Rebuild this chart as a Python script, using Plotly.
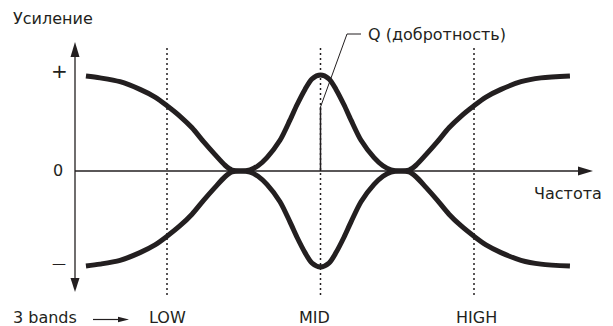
import plotly.graph_objects as go

# Band centres on the frequency axis (LOW / MID / HIGH)
band_names = ['LOW', 'MID', 'HIGH']
band_freq = [1.0, 2.0, 3.0]

# Response curves (frequency in band units, gain in +/- units)
freq = [0.472, 0.564, 0.694, 0.824, 0.922, 1.000, 1.085, 1.163, 1.241, 1.313,
        1.378, 1.423, 1.482, 1.541, 1.593, 1.651, 1.736, 1.801, 1.847, 1.899,
        1.945, 2.0, 2.055, 2.101, 2.153, 2.199, 2.264, 2.349, 2.407, 2.459,
        2.518, 2.577, 2.622, 2.687, 2.759, 2.837, 2.915, 3.0, 3.078, 3.176,
        3.306, 3.436, 3.625]
gain_boost = [0.99, 0.97, 0.93, 0.85, 0.77, 0.68, 0.57, 0.45, 0.30, 0.17,
              0.06, 0.01, 0.0, 0.012, 0.055, 0.14, 0.32, 0.53, 0.69, 0.85,
              0.96, 1.0, 0.96, 0.85, 0.69, 0.53, 0.32, 0.14, 0.055, 0.012,
              0.0, 0.01, 0.06, 0.17, 0.30, 0.45, 0.57, 0.68, 0.77, 0.85,
              0.93, 0.97, 0.99]
gain_cut = [-0.99, -0.97, -0.93, -0.85, -0.77, -0.68, -0.57, -0.45, -0.30, -0.17,
            -0.06, -0.01, 0.0, -0.012, -0.055, -0.14, -0.32, -0.53, -0.69, -0.85,
            -0.96, -1.0, -0.96, -0.85, -0.69, -0.53, -0.32, -0.14, -0.055, -0.012,
            0.0, -0.01, -0.06, -0.17, -0.30, -0.45, -0.57, -0.68, -0.77, -0.85,
            -0.93, -0.97, -0.99]

INK = '#231f20'
FONT = 'DejaVu Sans, Liberation Sans, sans-serif'
W, H = 613, 326
PAGE_PAD = 8   # default body margin of the html page


# helpers: picture pixel -> data units
def fx(px):
    return 1 + (px - 167) / 153.5


def gy(py):
    return (171 - py) / 96


fig = go.Figure()

for g in (gain_boost, gain_cut):
    fig.add_trace(go.Scatter(
        x=freq, y=g, mode='lines',
        line=dict(color=INK, width=5, shape='spline', smoothing=0.8),
        showlegend=False, hoverinfo='skip'
    ))

shapes = []

# Dotted band markers
for f in band_freq:
    shapes.append(dict(type='line', xref='x', yref='y', x0=f, x1=f,
                       y0=gy(48), y1=gy(298),
                       line=dict(color=INK, width=1.5, dash='2px,3px')))

# Axes
shapes.append(dict(type='line', xref='x', yref='y', x0=fx(75), x1=fx(75),
                   y0=gy(55), y1=gy(280), line=dict(color=INK, width=1.3)))
shapes.append(dict(type='line', xref='x', yref='y', x0=fx(75), x1=fx(580),
                   y0=0, y1=0, line=dict(color=INK, width=1.3)))


def tri(p1, p2, p3):
    pts = [p1, p2, p3]
    return 'M ' + ' L '.join(f'{fx(a)},{gy(b)}' for a, b in pts) + ' Z'


arrow_paths = [
    tri((75, 42), (70.5, 57), (79.5, 57)),
    tri((75, 292), (70.5, 278), (79.5, 278)),
    tri((593, 171), (578, 166.5), (578, 175.5)),
    tri((129, 319.5), (118, 316.8), (118, 322.2)),
]
for p in arrow_paths:
    shapes.append(dict(type='path', xref='x', yref='y', path=p,
                       fillcolor=INK, line=dict(color=INK, width=0)))

# "3 bands" arrow shaft
shapes.append(dict(type='line', xref='x', yref='y', x0=fx(93), x1=fx(120),
                   y0=gy(319.5), y1=gy(319.5), line=dict(color=INK, width=1.2)))

# Q leader line
shapes.append(dict(type='path', xref='x', yref='y',
                   path=f'M {fx(361)},{gy(34)} L {fx(347)},{gy(34)} L {fx(320.5)},{gy(107)}',
                   line=dict(color=INK, width=1)))
shapes.append(dict(type='line', xref='x', yref='y', x0=2.0, x1=2.0,
                   y0=gy(107), y1=0, line=dict(color=INK, width=1.5)))

fig.update_layout(shapes=shapes)

# Text labels
labels = [
    ('Усиление', 11, 18, 'left', 16),
    ('+', 59, 71, 'center', 20),
    ('0', 58, 170, 'center', 16),
    ('—', 59, 263, 'center', 14),
    ('Частота', 604, 193, 'right', 16),
    ('Q (добротность)', 366, 34, 'left', 16),
    ('3 bands', 11, 317, 'left', 16),
]
for txt, px, py, anchor, size in labels:
    fig.add_annotation(x=fx(px), y=gy(py), xref='x', yref='y', text=txt,
                       showarrow=False, xanchor=anchor, yanchor='middle',
                       font=dict(family=FONT, size=size, color=INK))

band_label_pos = [(167, 317), (314, 317), (476, 317)]
for name, (px, py) in zip(band_names, band_label_pos):
    fig.add_annotation(x=fx(px), y=gy(py), xref='x', yref='y', text=name,
                       showarrow=False, xanchor='center', yanchor='middle',
                       font=dict(family=FONT, size=16, color=INK))

# figure sits PAGE_PAD px in from the page corner, so map the visible window
fig.update_xaxes(range=[fx(PAGE_PAD), fx(W)], visible=False, fixedrange=True)
fig.update_yaxes(range=[gy(H), gy(PAGE_PAD)], visible=False, fixedrange=True)

fig.update_layout(
    width=W - PAGE_PAD, height=H - PAGE_PAD,
    margin=dict(l=0, r=0, t=0, b=0),
    plot_bgcolor='white', paper_bgcolor='white',
)

fig.write_html('out.html')
